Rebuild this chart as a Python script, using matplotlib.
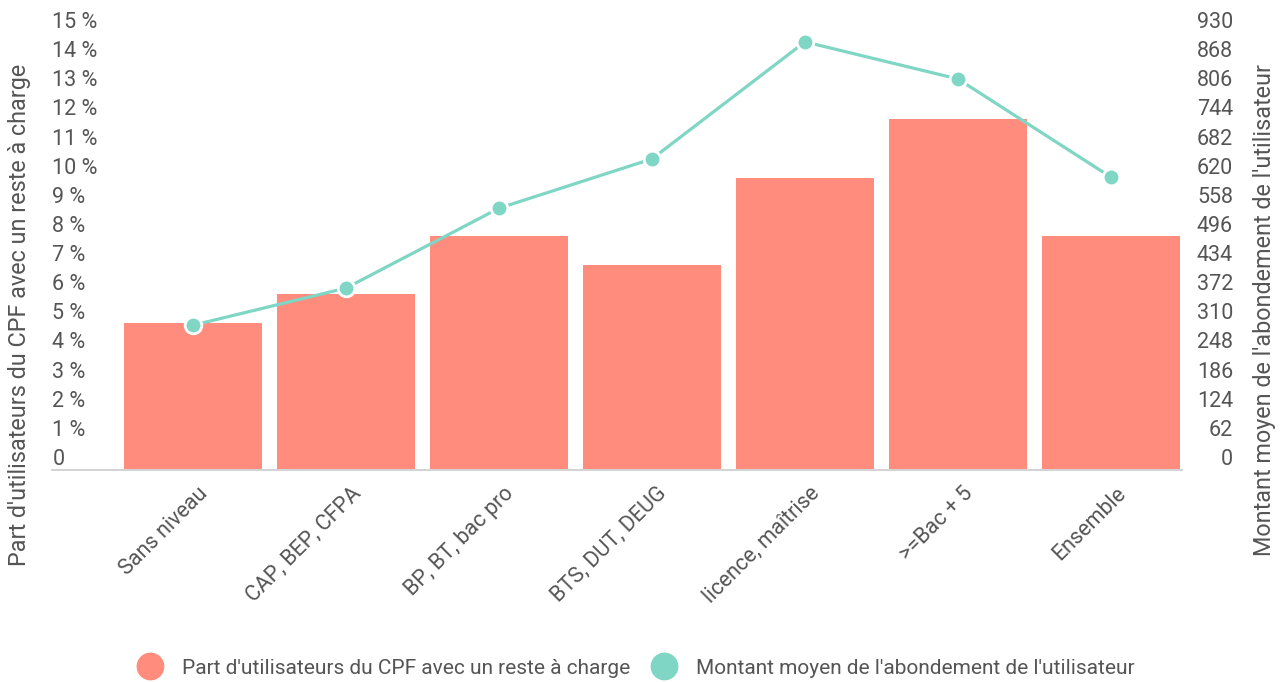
import matplotlib.pyplot as plt
import matplotlib.transforms as mtransforms
from matplotlib.lines import Line2D

# ── Données ──────────────────────────────────────────────────────────────
categories = ["Sans niveau", "CAP, BEP, CFPA", "BP, BT, bac pro", "BTS, DUT, DEUG",
              "licence, maîtrise", ">=Bac + 5", "Ensemble"]
part_reste_charge = [5, 6, 8, 7, 10, 12, 8]             # %
montant_abondement = [306, 385, 555, 660, 909, 830, 621]  # €

left_ticks = list(range(0, 16))
right_ticks = list(range(0, 931, 62))

BAR_COLOR = "#FF8C7C"
LINE_COLOR = "#7FD6C5"
TEXT_COLOR = "#555555"
W, H = 1283, 682

plt.rcParams["font.family"] = ["Roboto", "DejaVu Sans"]

fig = plt.figure(figsize=(W / 100, H / 100), dpi=100)
ax = fig.add_axes([116.5 / W, 213 / H, 1071 / W, 437 / H])
ax2 = ax.twinx()

x = list(range(len(categories)))
ax.bar(x, part_reste_charge, width=0.9, color=BAR_COLOR, zorder=2)
ax2.plot(x, montant_abondement, color=LINE_COLOR, lw=2.3, marker="o",
         markersize=12, markerfacecolor=LINE_COLOR, markeredgecolor="white",
         markeredgewidth=2, zorder=3)

ax.set_xlim(-0.5, 6.5)
ax.set_ylim(0, 15)
ax2.set_ylim(0, 930)

for a in (ax, ax2):
    for s in a.spines.values():
        s.set_visible(False)

# ligne de base (s'étend sous les libellés de gauche)
fig.add_artist(Line2D([52 / W, 1182 / W], [1 - 469.5 / H, 1 - 469.5 / H],
                      transform=fig.transFigure, color="#d0d0d0", lw=1.3, zorder=1))


def offset(dx, dy):
    return mtransforms.ScaledTranslation(dx / 100, dy / 100, fig.dpi_scale_trans)


# graduations gauche (libellés un peu au-dessus du niveau)
ax.set_yticks(left_ticks)
ax.set_yticklabels(["0"] + [f"{v} %" for v in left_ticks[1:]])
ax.tick_params(axis="y", length=0, labelsize=15.5, labelcolor=TEXT_COLOR, pad=0)
for t in ax.get_yticklabels():
    t.set_horizontalalignment("left")
    t.set_transform(t.get_transform() + offset(-64, 12))

ax2.set_yticks(right_ticks)
ax2.set_yticklabels([str(v) for v in right_ticks])
ax2.tick_params(axis="y", length=0, labelsize=15.5, labelcolor=TEXT_COLOR, pad=0)
for t in ax2.get_yticklabels():
    t.set_horizontalalignment("right")
    t.set_transform(t.get_transform() + offset(45.5, 12))

# libellés des catégories
ax.set_xticks(x)
ax.set_xticklabels(categories, rotation=45, ha="right", rotation_mode="anchor")
ax.tick_params(axis="x", length=0, labelsize=15.5, labelcolor=TEXT_COLOR, pad=10)
for t in ax.get_xticklabels():
    t.set_transform(t.get_transform() + offset(4, 0))

# titres des axes
fig.text(20 / W, 1 - 315 / H, "Part d'utilisateurs du CPF avec un reste à charge",
         rotation=90, ha="center", va="center", fontsize=16.8, color=TEXT_COLOR)
fig.text(1265 / W, 1 - 310 / H, "Montant moyen de l'abondement de l'utilisateur",
         rotation=90, ha="center", va="center", fontsize=16.8, color=TEXT_COLOR)

# légende
handles = [
    Line2D([], [], ls="none", marker="o", markersize=19, markerfacecolor=BAR_COLOR,
           markeredgecolor=BAR_COLOR),
    Line2D([], [], ls="none", marker="o", markersize=19, markerfacecolor=LINE_COLOR,
           markeredgecolor=LINE_COLOR),
]
labels = ["Part d'utilisateurs du CPF avec un reste à charge",
          "Montant moyen de l'abondement de l'utilisateur"]
fig.legend(handles, labels, loc="center", bbox_to_anchor=(636 / W, 1 - 668 / H),
           ncol=2, frameon=False, fontsize=15, labelcolor=TEXT_COLOR,
           handletextpad=0.95, columnspacing=1.0, handlelength=1.2)

fig.savefig("out.png", dpi=100)
